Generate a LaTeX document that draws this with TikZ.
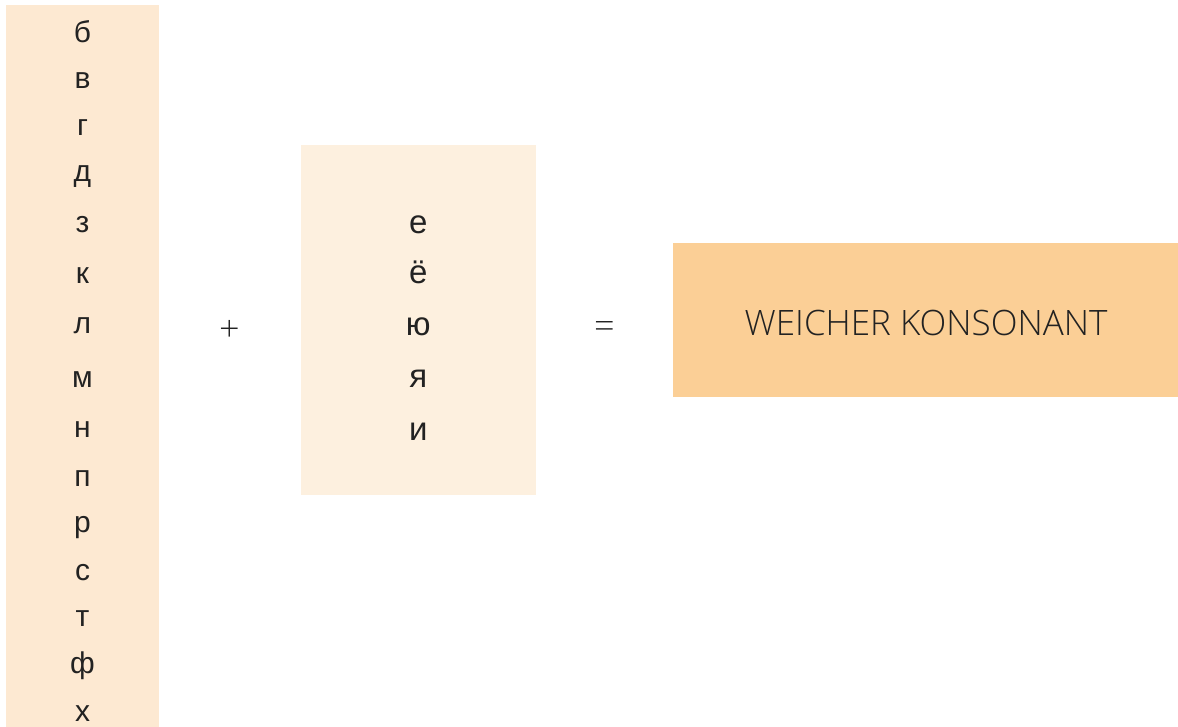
\documentclass[tikz,border=0pt]{standalone}
\usepackage{fontspec}
\setmainfont{Liberation Sans}
\newfontfamily\lightfont{Open Sans Light}
\definecolor{colfill}{HTML}{FDE9D2}
\definecolor{vowfill}{HTML}{FDF0DF}
\definecolor{resfill}{HTML}{FBCF96}
\definecolor{ink}{HTML}{222222}
\tikzset{
  letter/.style={anchor=base, inner sep=0pt, text=ink, font=\fontsize{30}{34}\selectfont},
  vowel/.style={letter, font=\fontsize{33}{36}\selectfont},
  opsign/.style={inner sep=0pt, text=ink, font=\lightfont\fontsize{36}{38}\selectfont},
  panel/.style={draw=none, inner sep=0pt},
}
\begin{document}
\begin{tikzpicture}[x=1pt,y=-1pt]
  \useasboundingbox (0,0) rectangle (1178,727);
  % consonant column
  \fill[colfill] (6,5) rectangle (159,727);
  \foreach \ch/\yb [count=\i] in {б/42.5,в/89,г/136,д/182,з/232.5,к/283.5,л/334,м/387,н/437.5,п/486,р/532.5,с/580,т/626.5,ф/673,х/721}
    \node[letter] (c\i) at (82.5,\yb) {\ch};
  % vowel box
  \node[panel, fill=vowfill, minimum width=234.7pt, minimum height=350pt] (vow) at (418.3,320) {};
  \foreach \ch/\yb [count=\i] in {е/234,ё/284,ю/335.5,я/387,и/440}
    \node[vowel] (v\i) at (418.3,\yb) {\ch};
  % operators
  \node[opsign] (plus) at (229.5,330.5) {+};
  \node[opsign] (eq) at (604.3,330) {=};
  % result box
  \node[panel, fill=resfill, minimum width=505pt, minimum height=154pt] (res) at (925.5,320) {};
  \node[anchor=base, inner sep=0pt, text=ink, font=\lightfont\fontsize{35}{38}\selectfont]
    (restext) at (926,335) {WEICHER KONSONANT};
\end{tikzpicture}
\end{document}
